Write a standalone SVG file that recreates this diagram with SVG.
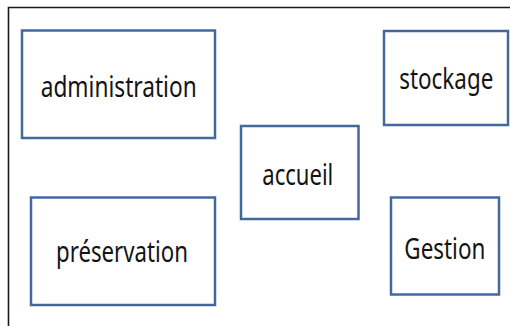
<svg xmlns="http://www.w3.org/2000/svg" width="510" height="326" viewBox="0 0 510 326">
  <style>
    .box { fill: #ffffff; stroke: #44689a; stroke-width: 2.5; }
    .lbl { font-family: "Noto Sans", "Open Sans", sans-serif; font-size: 29px; fill: #141414; }
    .frame { fill: none; stroke: #1a1a1a; stroke-width: 1.6; }
  </style>
  <rect x="0" y="0" width="510" height="326" fill="#ffffff"/>
  <!-- outer frame: top and left edges only -->
  <path class="frame" d="M8.5,326 V7.5 H510"/>

  <!-- labels use a narrow horizontal scale (0.8) so x and textLength are in scaled units -->
  <g id="administration">
    <rect class="box" x="22" y="30.5" width="193" height="107.5"/>
    <text class="lbl" transform="scale(0.8,1)" x="50.9" y="96.7" textLength="195" lengthAdjust="spacingAndGlyphs">administration</text>
  </g>
  <g id="stockage">
    <rect class="box" x="384" y="31" width="124" height="94"/>
    <text class="lbl" transform="scale(0.8,1)" x="499.1" y="89" textLength="117.5" lengthAdjust="spacingAndGlyphs">stockage</text>
  </g>
  <g id="accueil">
    <rect class="box" x="241" y="126" width="117.5" height="93"/>
    <text class="lbl" transform="scale(0.8,1)" x="327.9" y="185.3" textLength="88.75" lengthAdjust="spacingAndGlyphs">accueil</text>
  </g>
  <g id="preservation">
    <rect class="box" x="31" y="197.5" width="184" height="107.5"/>
    <text class="lbl" transform="scale(0.8,1)" x="70" y="262" textLength="165" lengthAdjust="spacingAndGlyphs">préservation</text>
  </g>
  <g id="gestion">
    <rect class="box" x="391" y="197.5" width="108" height="97"/>
    <text class="lbl" transform="scale(0.8,1)" x="505.4" y="259" textLength="101.25" lengthAdjust="spacingAndGlyphs">Gestion</text>
  </g>
  <g id="connectors"></g>
</svg>
